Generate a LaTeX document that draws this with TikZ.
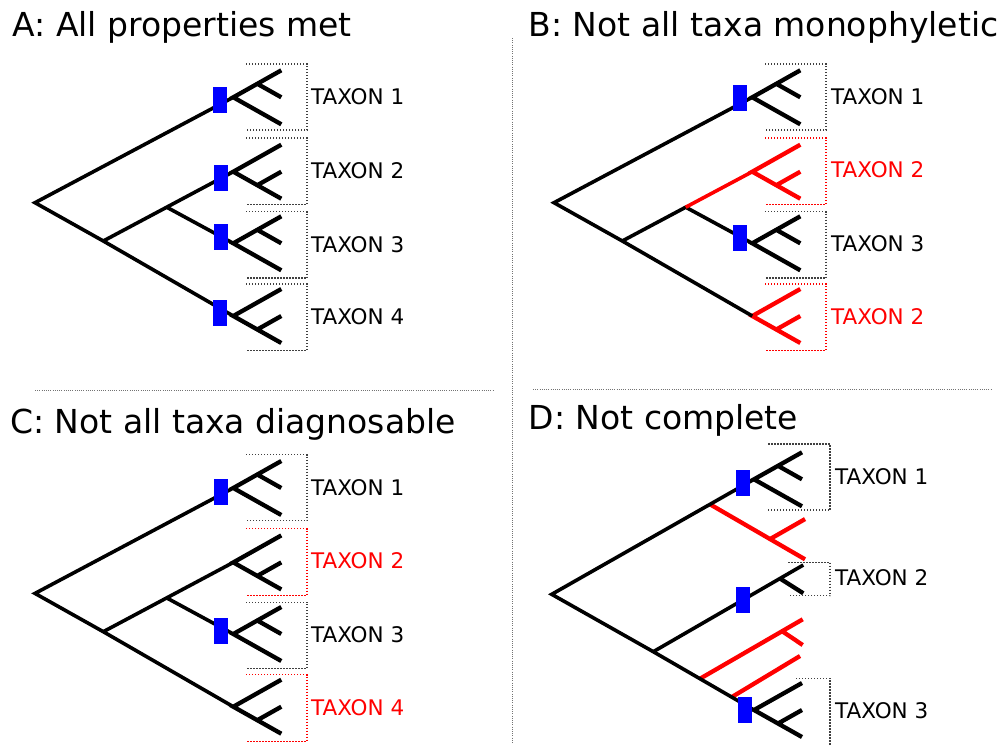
\documentclass[tikz,border=0pt]{standalone}
\usepackage{fontspec}
\setmainfont{DejaVu Sans}
\usetikzlibrary{calc}
\definecolor{tred}{RGB}{255,0,0}
\definecolor{tblue}{RGB}{0,0,255}
\tikzset{
  bb/.style={line width=3.6pt},
  cl/.style={line width=4.3pt},
  bx/.style={black!75, line width=1.2pt, dash pattern=on 1.2pt off 1.8pt},
  sep/.style={black!55, line width=0.8pt, dash pattern=on 0.8pt off 1.4pt},
  synap/.style={rectangle, fill=tblue, draw=none, minimum width=14pt, minimum height=26pt, inner sep=0pt},
  ttl/.style={anchor=base west, inner sep=0pt, font=\fontsize{33}{40}\selectfont},
  tx/.style={anchor=base west, inner sep=0pt, font=\fontsize{21.5}{26}\selectfont},
}
% name, x, y, sub side (t/b), colour
\newcommand\mkclade[5]{%
  \coordinate (#1) at (#2,#3);
  \coordinate (#1t) at ($(#1)+(48,-27)$);
  \coordinate (#1b) at ($(#1)+(48,27)$);
  \coordinate (#1m) at ($(#1)+(48,0)$);
  \coordinate (#1s) at ($(#1)!0.5!(#1#4)$);
  \draw[cl,#5] (#1t) -- (#1) -- (#1b) (#1s) -- (#1m);
}
% x1, x2, y1, y2, colour
\newcommand\mkbox[5]{%
  \draw[bx,#5] (#1,#3) -- (#2,#3) -- (#2,#4) -- (#1,#4);
}
\begin{document}
\begin{tikzpicture}[x=1pt,y=-1pt]
\useasboundingbox (0,0) rectangle (1000,744);

% separators
\draw[sep] (512.3,38) -- (512.3,744);
\draw[sep] (35,390) -- (493,390);
\draw[sep] (533,389.3) -- (992,389.3);

% titles
\node[ttl] (tA) at (12.4,36.7) {A: All properties met};
\node[ttl] (tB) at (528.5,36.7) {B: Not all taxa monophyletic};
\node[ttl] (tC) at (9.9,433.3) {C: Not all taxa diagnosable};
\node[ttl] (tD) at (528.5,429.3) {D: Not complete};

% ---------------- Panel A ----------------
\coordinate (aR) at (35,202.7);
\coordinate (an1) at (103.3,241);
\coordinate (an2) at (166.7,207.2);
\mkclade{a1}{233.3}{97.3}{t}{black}
\mkclade{a2}{233.3}{171.7}{b}{black}
\mkclade{a3}{233.3}{243.3}{t}{black}
\mkclade{a4}{233.3}{316}{b}{black}
\draw[bb] (a1) -- (aR) -- (an1) -- (a4);
\draw[bb] (an1) -- (a2);
\draw[bb] (an2) -- (a3);
\mkbox{246}{307}{64}{130}{black!75}
\mkbox{246}{307}{138}{204.5}{black!75}
\mkbox{246}{307}{211.5}{278}{black!75}
\mkbox{246}{307}{284}{350.5}{black!75}
\node[tx] (la1) at (311,104) {TAXON 1};
\node[tx] (la2) at (311,178.3) {TAXON 2};
\node[tx] (la3) at (311,252) {TAXON 3};
\node[tx] (la4) at (311,324.3) {TAXON 4};
\node[synap] (ma1) at (220.3,100.3) {};
\node[synap] (ma2) at (220.5,177.7) {};
\node[synap] (ma3) at (220.8,237.3) {};
\node[synap] (ma4) at (220.3,312.7) {};

% ---------------- Panel B ----------------
\coordinate (bR) at (554,202.7);
\coordinate (bn1) at (622.3,241);
\coordinate (bn2) at (685.7,207.2);
\mkclade{b1}{752.3}{97.3}{t}{black}
\mkclade{b2}{752.3}{171.7}{b}{tred}
\mkclade{b3}{752.3}{243.3}{t}{black}
\mkclade{b4}{752.3}{316}{b}{tred}
\draw[bb] (b1) -- (bR) -- (bn1) -- (b4);
\draw[bb] (bn1) -- (bn2) -- (b3);
\draw[bb,tred] (bn2) -- (b2);
\mkbox{765}{826}{64}{130}{black!75}
\mkbox{765}{826}{138}{204.5}{tred}
\mkbox{765}{826}{211.5}{278}{black!75}
\mkbox{765}{826}{284}{350.5}{tred}
\node[tx] (lb1) at (831,104) {TAXON 1};
\node[tx,text=tred] (lb2) at (831,177.7) {TAXON 2};
\node[tx] (lb3) at (831,251.7) {TAXON 3};
\node[tx,text=tred] (lb4) at (831,324) {TAXON 2};
\node[synap] (mb1) at (739.7,98.3) {};
\node[synap] (mb3) at (739.7,238.3) {};

% ---------------- Panel C ----------------
\coordinate (cR) at (35,593.4);
\coordinate (cn1) at (103.3,631.7);
\coordinate (cn2) at (166.7,597.9);
\mkclade{c1}{233.3}{488}{t}{black}
\mkclade{c2}{233.3}{562.4}{b}{black}
\mkclade{c3}{233.3}{634}{t}{black}
\mkclade{c4}{233.3}{706.7}{b}{black}
\draw[bb] (c1) -- (cR) -- (cn1) -- (c4);
\draw[bb] (cn1) -- (c2);
\draw[bb] (cn2) -- (c3);
\mkbox{246}{307}{454.7}{520.7}{black!75}
\mkbox{246}{307}{528.7}{595.2}{tred}
\mkbox{246}{307}{602.2}{668.7}{black!75}
\mkbox{246}{307}{674.7}{741.2}{tred}
\node[tx] (lc1) at (311,495) {TAXON 1};
\node[tx,text=tred] (lc2) at (311,568.3) {TAXON 2};
\node[tx] (lc3) at (311,642.3) {TAXON 3};
\node[tx,text=tred] (lc4) at (311,715) {TAXON 4};
\node[synap] (mc1) at (221,492) {};
\node[synap] (mc3) at (221.2,630.7) {};

% ---------------- Panel D ----------------
\coordinate (dR) at (551.7,594.3);
\coordinate (dn) at (653.3,651.7);
\mkclade{d1}{754}{479.3}{t}{black}
\mkclade{d3}{754}{710}{b}{black}
\coordinate (d2t) at (803.3,565);
\coordinate (d2s) at (780,578.5);
\coordinate (d2m) at (803.3,593.3);
% red (unsampled) lineages
\coordinate (r1a) at (710,504.3);
\coordinate (r1b) at (805,559.3);
\coordinate (r1s) at ($(r1a)!0.632!(r1b)$);
\coordinate (r1t) at ($(r1s)+(35,-20)$);
\coordinate (r2a) at (700,678.7);
\coordinate (r2b) at (802.7,619.3);
\coordinate (r2s) at ($(r2a)!0.8!(r2b)$);
\coordinate (r2m) at (802.7,645);
\coordinate (r3a) at (731.7,697.1);
\coordinate (r3b) at (800,656);
\draw[cl,tred] (r1a) -- (r1b) (r1s) -- (r1t);
\draw[cl,tred] (r2a) -- (r2b) (r2s) -- (r2m);
\draw[cl,tred] (r3a) -- (r3b);
\draw[bb] (d1) -- (dR) -- (dn) -- (d3);
\draw[bb] (dn) -- (d2t);
\draw[cl] (d2s) -- (d2m);
\mkbox{768.3}{830}{444}{510}{black!75}
\mkbox{788.3}{830}{562.3}{595.7}{black!75}
\draw[bx] (796,678.3) -- (830,678.3) -- (830,750);
\node[tx] (ld1) at (835,484) {TAXON 1};
\node[tx] (ld2) at (835,585.7) {TAXON 2};
\node[tx] (ld3) at (835,718.3) {TAXON 3};
\node[synap] (md1) at (743,482.5) {};
\node[synap] (md2) at (743,600) {};
\node[synap] (md3) at (745.3,709.7) {};
\end{tikzpicture}
\end{document}
